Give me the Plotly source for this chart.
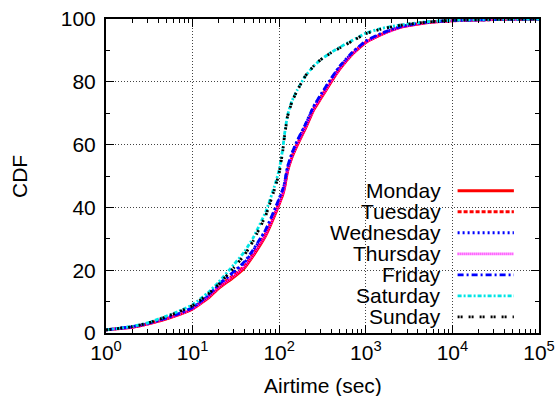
import plotly.graph_objects as go

# Airtime samples (seconds) at which each day's CDF is evaluated
airtime_sec = [1, 2, 3, 5, 7, 10, 15, 20, 30, 40, 50, 70, 90, 100, 110, 115, 125,
               140, 160, 200, 250, 300, 400, 500, 700, 1000, 1500, 2500, 5000,
               10000, 30000, 100000]

# CDF (%) per day of week
monday = [1.0, 1.8, 2.8, 4.5, 5.8, 7.6, 11.0, 14.2, 17.8, 20.8, 24.5, 31.0, 37.8, 41.0,
          44.0, 46.0, 51.5, 55.8, 59.5, 65.0, 71.0, 74.5, 80.0, 84.0, 88.8, 92.5, 95.0,
          97.3, 98.8, 99.4, 99.8, 100.0]
tuesday = [1.0, 1.9, 2.9, 4.6, 6.0, 7.8, 11.4, 14.8, 18.5, 21.5, 25.2, 31.8, 38.5, 41.6,
           44.6, 46.6, 52.0, 56.2, 60.0, 65.5, 71.4, 75.0, 80.4, 84.3, 89.0, 92.7, 95.1,
           97.4, 98.9, 99.5, 99.8, 100.0]
wednesday = [1.0, 2.0, 3.0, 4.8, 6.2, 8.0, 11.8, 15.3, 19.4, 22.5, 26.2, 32.8, 39.5, 42.6,
             45.5, 47.5, 52.8, 57.0, 60.8, 66.2, 72.0, 75.6, 81.0, 84.8, 89.3, 92.9, 95.3,
             97.5, 98.9, 99.5, 99.8, 100.0]
thursday = [1.0, 1.8, 2.8, 4.6, 5.9, 7.7, 11.2, 14.5, 18.2, 21.2, 24.9, 31.4, 38.2, 41.3,
            44.3, 46.3, 51.8, 56.0, 59.8, 65.3, 71.2, 74.8, 80.2, 84.1, 88.9, 92.6, 95.0,
            97.3, 98.8, 99.4, 99.8, 100.0]
friday = [1.0, 2.0, 3.0, 4.8, 6.2, 8.1, 11.9, 15.5, 19.6, 22.8, 26.5, 33.0, 39.8, 42.9,
          45.8, 47.8, 53.0, 57.2, 61.0, 66.4, 72.2, 75.8, 81.2, 85.0, 89.4, 93.0, 95.4,
          97.6, 99.0, 99.5, 99.8, 100.0]
saturday = [1.0, 2.1, 3.2, 5.4, 7.0, 9.0, 12.8, 16.2, 21.8, 26.0, 30.3, 38.6, 47.5, 52.0,
            58.8, 63.2, 69.4, 73.8, 77.2, 81.8, 85.0, 87.0, 89.4, 91.0, 93.2, 95.5, 97.0,
            98.1, 99.1, 99.6, 99.9, 100.0]
sunday = [1.0, 2.0, 3.1, 5.2, 6.8, 8.7, 12.3, 15.5, 20.8, 25.0, 29.3, 37.5, 46.5, 51.0,
          58.0, 62.5, 69.0, 73.5, 77.0, 81.8, 85.0, 87.0, 89.3, 90.8, 93.0, 95.3, 96.8,
          98.0, 99.0, 99.6, 99.9, 100.0]

day_names = ["Monday", "Tuesday", "Wednesday", "Thursday", "Friday", "Saturday", "Sunday"]
day_values = [monday, tuesday, wednesday, thursday, friday, saturday, sunday]
day_colors = ["#ff0000", "#ff0000", "#0000ff", "#ff00ff", "#0000ff", "#00e5e5", "#000000"]
day_dashes = ["solid", "4px,2px", "2px,3px", "1px,1px", "6px,3px,2px,3px",
              "4px,2px,2px,2px", "2px,1px,2px,6px"]

x_tick_vals = [1, 10, 100, 1000, 10000, 100000]
x_tick_text = ["10<sup>0</sup>", "10<sup>1</sup>", "10<sup>2</sup>",
               "10<sup>3</sup>", "10<sup>4</sup>", "10<sup>5</sup>"]
y_tick_vals = [0, 20, 40, 60, 80, 100]

FONT = "Liberation Sans, Arial, Helvetica, sans-serif"
FSIZE = 21

fig = go.Figure()
for name, vals, col, dash in zip(day_names, day_values, day_colors, day_dashes):
    fig.add_trace(go.Scatter(
        x=airtime_sec, y=vals, mode="lines", name=name,
        line=dict(color=col, width=2.8, dash=dash, shape="spline", smoothing=0.4),
        showlegend=False,
    ))

# Gnuplot-style key: right-aligned label followed by a line sample
key_text_x = 0.778
key_line_x0, key_line_x1 = 0.812, 0.942
key_top_y, key_step = 0.453, 0.0669
for i, (name, col, dash) in enumerate(zip(day_names, day_colors, day_dashes)):
    yk = key_top_y - i * key_step
    fig.add_annotation(x=key_text_x, y=yk, xref="paper", yref="paper", text=name,
                       showarrow=False, xanchor="right", yanchor="middle",
                       font=dict(family=FONT, size=FSIZE, color="black"))
    fig.add_shape(type="line", xref="paper", yref="paper",
                  x0=key_line_x0, x1=key_line_x1, y0=yk, y1=yk,
                  line=dict(color=col, width=2.8, dash=dash))

fig.add_annotation(x=-0.201, y=0.5, xref="paper", yref="paper", text="CDF",
                   textangle=-90, showarrow=False, xanchor="center", yanchor="middle",
                   font=dict(family=FONT, size=FSIZE, color="black"))
fig.add_annotation(x=0.5, y=-0.166, xref="paper", yref="paper", text="Airtime (sec)",
                   showarrow=False, xanchor="center", yanchor="middle",
                   font=dict(family=FONT, size=FSIZE, color="black"))

fig.update_xaxes(
    type="log", range=[0, 5], tickvals=x_tick_vals, ticktext=x_tick_text,
    ticks="inside", ticklen=8, tickwidth=1, tickcolor="black",
    showline=True, linecolor="black", linewidth=2, mirror="allticks",
    showgrid=True, gridcolor="#444444", griddash="1px,2px", gridwidth=1,
    zeroline=False,
    tickfont=dict(family=FONT, size=FSIZE, color="black"),
    minor=dict(ticks="inside", ticklen=4, tickcolor="black", dtick="D1", showgrid=False),
)
fig.update_yaxes(
    range=[0, 100], tickvals=y_tick_vals,
    ticks="inside", ticklen=8, tickwidth=1, tickcolor="black",
    showline=True, linecolor="black", linewidth=2, mirror="allticks",
    showgrid=True, gridcolor="#444444", griddash="1px,2px", gridwidth=1,
    zeroline=False, ticklabelstandoff=4,
    tickfont=dict(family=FONT, size=FSIZE, color="black"),
    minor=dict(ticks="inside", ticklen=4, tickcolor="black", dtick=10, showgrid=False),
)

fig.update_layout(
    width=558, height=396,
    margin=dict(l=106, r=19, t=19, b=63, autoexpand=False),
    paper_bgcolor="white", plot_bgcolor="white",
    font=dict(family=FONT, size=FSIZE, color="black"),
)

fig.write_html("out.html")
